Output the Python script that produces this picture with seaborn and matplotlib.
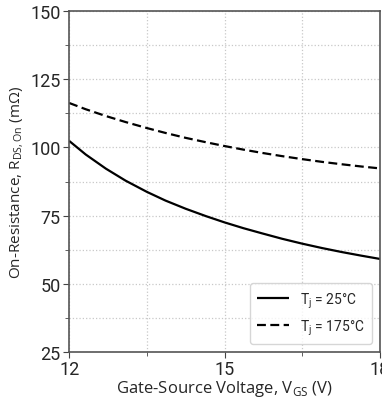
import numpy as np
import pandas as pd
import matplotlib
matplotlib.use('Agg')
import matplotlib.pyplot as plt
import seaborn as sns
from matplotlib.ticker import MultipleLocator

# Values
vgs = [12.0, 12.32, 12.71, 13.09, 13.5, 13.86, 14.25, 14.64, 15.0,
       15.36, 15.72, 16.11, 16.5, 16.88, 17.27, 17.64, 18.0]
rds_25 = [102.4, 97.4, 92.2, 87.8, 83.7, 80.5, 77.5, 74.8, 72.5,
          70.4, 68.5, 66.5, 64.7, 63.1, 61.6, 60.3, 59.1]
rds_175 = [116.3, 114.0, 111.5, 109.3, 107.1, 105.3, 103.5, 101.9, 100.5,
           99.2, 98.0, 96.8, 95.7, 94.7, 93.8, 93.0, 92.3]
labels = ['T$_\\mathregular{j}$ = 25°C', 'T$_\\mathregular{j}$ = 175°C']

sns.set_style('ticks')
plt.rcParams['font.family'] = ['Roboto', 'DejaVu Sans']
plt.rcParams['mathtext.fontset'] = 'custom'
plt.rcParams['mathtext.rm'] = 'Open Sans'

df = pd.DataFrame({'vgs': vgs * 2,
                   'rds': rds_25 + rds_175,
                   'tj': [labels[0]] * len(vgs) + [labels[1]] * len(vgs)})

fig = plt.figure(figsize=(3.82, 4.02), dpi=100)
ax = fig.add_axes([0.181, 0.122, 0.814, 0.848])

sns.lineplot(data=df, x='vgs', y='rds', hue='tj', style='tj',
             palette=['black', 'black'], dashes=[(1, 0), (4, 2)],
             linewidth=1.6, ax=ax)

ax.set_xlim(12, 18)
ax.set_ylim(25, 150)
ax.xaxis.set_major_locator(MultipleLocator(3))
ax.xaxis.set_minor_locator(MultipleLocator(1.5))
ax.yaxis.set_major_locator(MultipleLocator(25))
ax.yaxis.set_minor_locator(MultipleLocator(12.5))
ax.grid(which='major', color='#c8c8c8', linestyle=':', linewidth=0.9)
ax.grid(which='minor', color='#c8c8c8', linestyle=':', linewidth=0.9)
ax.tick_params(which='major', labelsize=13, length=4, color='#444444', pad=2)
ax.tick_params(which='minor', length=3, color='#444444')
for s in ax.spines.values():
    s.set_color('#555555')
    s.set_linewidth(1.2)

ax.set_xlabel('Gate-Source Voltage, V$_\\mathregular{GS}$ (V)', fontsize=12,
              family='Open Sans', labelpad=0)
ax.set_ylabel('On-Resistance, R$_\\mathregular{DS,On}$ (mΩ)', fontsize=11,
              family='Open Sans', labelpad=3)

leg = ax.legend(title=None, loc='lower right', fontsize=10, frameon=True,
                handlelength=2.3, handletextpad=0.8, borderpad=0.5,
                labelspacing=0.55, borderaxespad=0.6)
leg.get_frame().set_edgecolor('#cccccc')

fig.savefig('out.png', dpi=100)
